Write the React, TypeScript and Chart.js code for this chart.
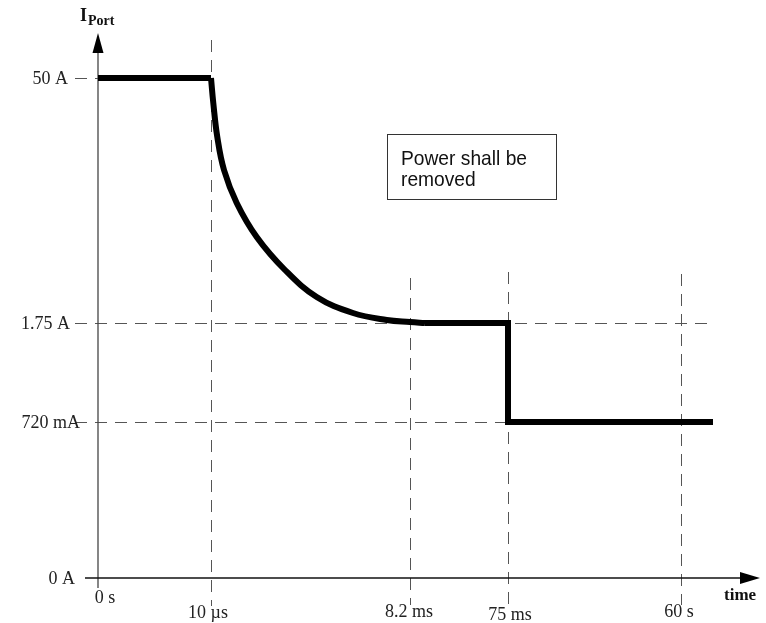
import React, { useEffect, useRef } from "react";
import { Chart, registerables } from "chart.js";

Chart.register(...registerables);

// Schematic (non-linear) axis positions
const xTickLabels = ["0 s", "10 µs", "8.2 ms", "75 ms", "60 s"];
const xTickPos = [0, 1.13, 3.12, 4.1, 5.83];
const yTickLabels = ["0 A", "720 mA", "1.75 A", "50 A"];
const yTickPos = [0, 1.56, 2.55, 5.0];

// Current limit curve
const plateauX = [0, 1.13];
const plateauY = [5.0, 5.0];
const decayX = [1.13, 1.153, 1.193, 1.26, 1.387, 1.587, 1.87, 2.187, 2.55, 2.887, 3.12, 3.27];
const decayY = [5.0, 4.75, 4.41, 4.08, 3.75, 3.41, 3.08, 2.81, 2.65, 2.58, 2.56, 2.55];
const holdX = [3.27, 4.1, 4.1, 6.15];
const holdY = [2.55, 2.55, 1.56, 1.56];

const noteLines = ["Power shall be", "removed"];

const toPts = (xs: number[], ys: number[]) => xs.map((x, i) => ({ x, y: ys[i] }));

const overlay = {
  id: "schematic",
  beforeDatasetsDraw(chart: any) {
    const { ctx, scales } = chart;
    const X = (v: number) => scales.x.getPixelForValue(v);
    const Y = (v: number) => scales.y.getPixelForValue(v);
    const x0 = X(0);
    const y0 = Y(0);
    ctx.save();
    // dashed guides
    ctx.strokeStyle = "#555";
    ctx.lineWidth = 1;
    ctx.setLineDash([12, 8]);
    const vTop = [0, 5.38, 3.0, 3.06, 3.04];
    for (let i = 1; i < xTickPos.length; i++) {
      const xx = Math.round(X(xTickPos[i])) + 0.5;
      ctx.beginPath();
      ctx.moveTo(xx, Y(vTop[i]));
      ctx.lineTo(xx, y0 + 38);
      ctx.stroke();
    }
    const hEnd = [0, 6.12, 6.12, 0];
    for (let i = 1; i < yTickPos.length; i++) {
      const yy = Math.round(Y(yTickPos[i])) + 0.5;
      ctx.beginPath();
      ctx.moveTo(x0 - 23, yy);
      ctx.lineTo(i === 3 ? x0 : X(hEnd[i]), yy);
      ctx.stroke();
    }
    ctx.setLineDash([]);
    // y axis
    ctx.strokeStyle = "#444";
    ctx.lineWidth = 1.3;
    ctx.beginPath();
    ctx.moveTo(x0, y0 + 10);
    ctx.lineTo(x0, Y(5.3));
    ctx.stroke();
    ctx.fillStyle = "#000";
    ctx.beginPath();
    ctx.moveTo(x0, Y(5.45));
    ctx.lineTo(x0 - 5.5, Y(5.25));
    ctx.lineTo(x0 + 5.5, Y(5.25));
    ctx.closePath();
    ctx.fill();
    // x axis
    ctx.strokeStyle = "#111";
    ctx.lineWidth = 1.3;
    ctx.beginPath();
    ctx.moveTo(X(-0.13), y0);
    ctx.lineTo(X(6.5), y0);
    ctx.stroke();
    ctx.beginPath();
    ctx.moveTo(X(6.62), y0);
    ctx.lineTo(X(6.42), y0 - 6);
    ctx.lineTo(X(6.42), y0 + 6);
    ctx.closePath();
    ctx.fill();
    ctx.restore();
  },
  afterDatasetsDraw(chart: any) {
    const { ctx, scales } = chart;
    const X = (v: number) => scales.x.getPixelForValue(v);
    const Y = (v: number) => scales.y.getPixelForValue(v);
    const x0 = X(0);
    const y0 = Y(0);
    ctx.save();
    ctx.fillStyle = "#222";
    ctx.font = '18px "Liberation Serif", serif';
    // y labels
    ctx.textAlign = "right";
    ctx.textBaseline = "middle";
    const yOff = [23, 18, 28, 30];
    yTickLabels.forEach((t, i) => {
      ctx.fillText(t, x0 - yOff[i], Y(yTickPos[i]) + 1);
    });
    // x labels
    ctx.textAlign = "center";
    ctx.textBaseline = "alphabetic";
    const xDx = [7, -3, -1, 2, -2];
    const xDy = [25, 40, 39, 42, 39];
    xTickLabels.forEach((t, i) => {
      const px = X(xTickPos[i]) + xDx[i];
      const tw = ctx.measureText(t).width;
      // gap in the guide line around the unit letters, as in the source
      ctx.clearRect(px - tw / 2 + tw * 0.45, y0 + xDy[i] - 12, tw * 0.6, 16);
      ctx.clearRect(px - tw / 2 - 2, y0 + xDy[i] - 6, tw * 0.5, 10);
      ctx.fillText(t, px, y0 + xDy[i]);
    });
    // axis titles
    ctx.textAlign = "left";
    ctx.fillStyle = "#111";
    ctx.font = 'bold 18px "Liberation Serif", serif';
    ctx.fillText("I", x0 - 18, 21);
    ctx.font = 'bold 14px "Liberation Serif", serif';
    ctx.fillText("Port", x0 - 10, 25);
    ctx.font = 'bold 17px "Liberation Serif", serif';
    ctx.fillText("time", X(6.26), y0 + 22);
    // note box
    const bx = X(2.89), by = Y(4.44), bw = 169, bh = 65;
    ctx.fillStyle = "#fff";
    ctx.fillRect(bx, by, bw, bh);
    ctx.strokeStyle = "#333";
    ctx.lineWidth = 1;
    ctx.strokeRect(Math.round(bx) + 0.5, Math.round(by) + 0.5, bw, bh);
    ctx.fillStyle = "#111";
    ctx.font = '21px "Liberation Sans", Arial, sans-serif';
    const w0 = ctx.measureText(noteLines[0]).width;
    const sx = 126 / w0;
    noteLines.forEach((l, i) => {
      ctx.save();
      ctx.translate(bx + 14, by + 31 + i * 21);
      ctx.scale(sx, 1);
      ctx.fillText(l, 0, 0);
      ctx.restore();
    });
    ctx.restore();
  },
};

export default function App() {
  const ref = useRef<HTMLCanvasElement | null>(null);
  useEffect(() => {
    if (!ref.current) return;
    const line = {
      borderColor: "#000",
      borderWidth: 6,
      pointRadius: 0,
      fill: false,
      borderJoinStyle: "miter" as const,
      borderCapStyle: "butt" as const,
    };
    const chart = new Chart(ref.current, {
      type: "line",
      data: {
        datasets: [
          { ...line, data: toPts(plateauX, plateauY) },
          { ...line, data: toPts(decayX, decayY), tension: 0.4 },
          { ...line, data: toPts(holdX, holdY) },
        ],
      },
      options: {
        animation: false,
        responsive: true,
        maintainAspectRatio: false,
        layout: { padding: 0 },
        plugins: { legend: { display: false }, tooltip: { enabled: false } },
        scales: {
          x: { type: "linear", min: -0.98, max: 6.68, display: false },
          y: { type: "linear", min: -0.45, max: 5.78, display: false },
        },
      },
      plugins: [overlay],
    } as any);
    return () => chart.destroy();
  }, []);
  return (
    <div style={{ position: "fixed", left: 0, top: 0, width: 766, height: 623, background: "#fff" }}>
      <canvas ref={ref} />
    </div>
  );
}
